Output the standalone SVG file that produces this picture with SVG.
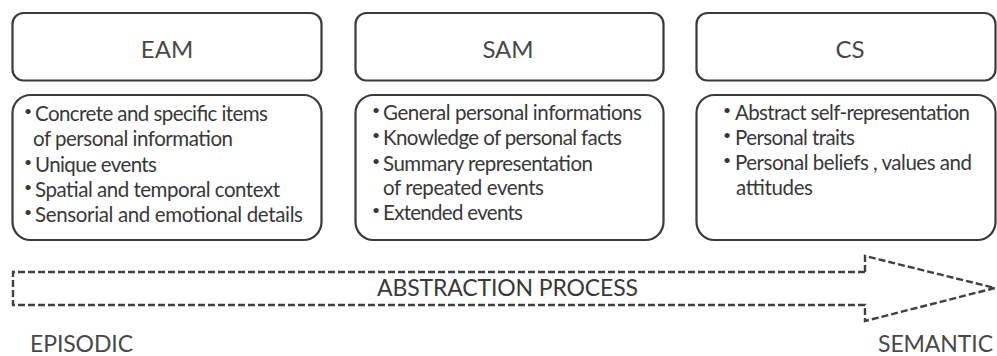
<svg xmlns="http://www.w3.org/2000/svg" width="997" height="356" viewBox="0 0 997 356">
<style>
.box{fill:#fff;stroke:#3a3a3a;stroke-width:2.2}
.title{font-family:Lato,"Open Sans",sans-serif;font-size:24px;fill:#484848;text-anchor:middle}
.item{font-family:Lato,"Open Sans",sans-serif;font-size:20.5px;fill:#383838}
.bul{font-family:Lato,"Open Sans",sans-serif;font-size:14px;fill:#383838}
.lbl{font-family:Lato,"Open Sans",sans-serif;font-size:23px;fill:#484848}
.arrow{fill:none;stroke:#404040;stroke-width:2.4;stroke-dasharray:7 3}
</style>
<rect width="997" height="356" fill="#fff"/>
<g id="eam">
<rect class="box" x="12.5" y="13" width="309" height="67.5" rx="11"/>
<text class="title" x="167" y="58">EAM</text>
</g>
<g id="sam">
<rect class="box" x="355.5" y="13" width="308" height="67.5" rx="11"/>
<text class="title" x="508" y="58">SAM</text>
</g>
<g id="cs">
<rect class="box" x="696.5" y="13" width="299" height="67.5" rx="11"/>
<text class="title" x="850" y="58">CS</text>
</g>
<g id="eam-details">
<rect class="box" x="12.5" y="95" width="309" height="145" rx="18"/>
<text class="bul" x="24" y="116">•</text><text class="item" x="35" y="121" textLength="233">Concrete and specific items</text>
<text class="item" x="33" y="146" textLength="200">of personal information</text>
<text class="bul" x="24" y="167">•</text><text class="item" x="35" y="172" textLength="122">Unique events</text>
<text class="bul" x="24" y="192">•</text><text class="item" x="35" y="197" textLength="245">Spatial and temporal context</text>
<text class="bul" x="24" y="217">•</text><text class="item" x="35" y="222" textLength="268">Sensorial and emotional details</text>
</g>
<g id="sam-details">
<rect class="box" x="355.5" y="95" width="308" height="145" rx="18"/>
<text class="bul" x="372" y="115">•</text><text class="item" x="383" y="120" textLength="259">General personal informations</text>
<text class="bul" x="372" y="140">•</text><text class="item" x="383" y="145" textLength="239">Knowledge of personal facts</text>
<text class="bul" x="372" y="166">•</text><text class="item" x="383" y="171" textLength="210">Summary representation</text>
<text class="item" x="383" y="195" textLength="161">of repeated events</text>
<text class="bul" x="372" y="215">•</text><text class="item" x="383" y="220" textLength="140">Extended events</text>
</g>
<g id="cs-details">
<rect class="box" x="696.5" y="95" width="299" height="145" rx="18"/>
<text class="bul" x="723" y="115">•</text><text class="item" x="735" y="120" textLength="235">Abstract self-representation</text>
<text class="bul" x="723" y="140">•</text><text class="item" x="735" y="145" textLength="120">Personal traits</text>
<text class="bul" x="723" y="165">•</text><text class="item" x="735" y="170" textLength="237">Personal beliefs , values and</text>
<text class="item" x="736" y="195" textLength="77">attitudes</text>
</g>
<g id="connectors">
<g id="abstraction-arrow">
<path class="arrow" d="M865 272 L865 256 L995 288 L865 321 L865 305 L13 305 L13 272 Z"/>
<text class="item" x="377" y="296" style="font-size:23px" textLength="261">ABSTRACTION PROCESS</text>
</g>
</g>
<text class="lbl" x="30" y="352" textLength="103">EPISODIC</text>
<text class="lbl" x="878" y="352" textLength="115">SEMANTIC</text>
</svg>
